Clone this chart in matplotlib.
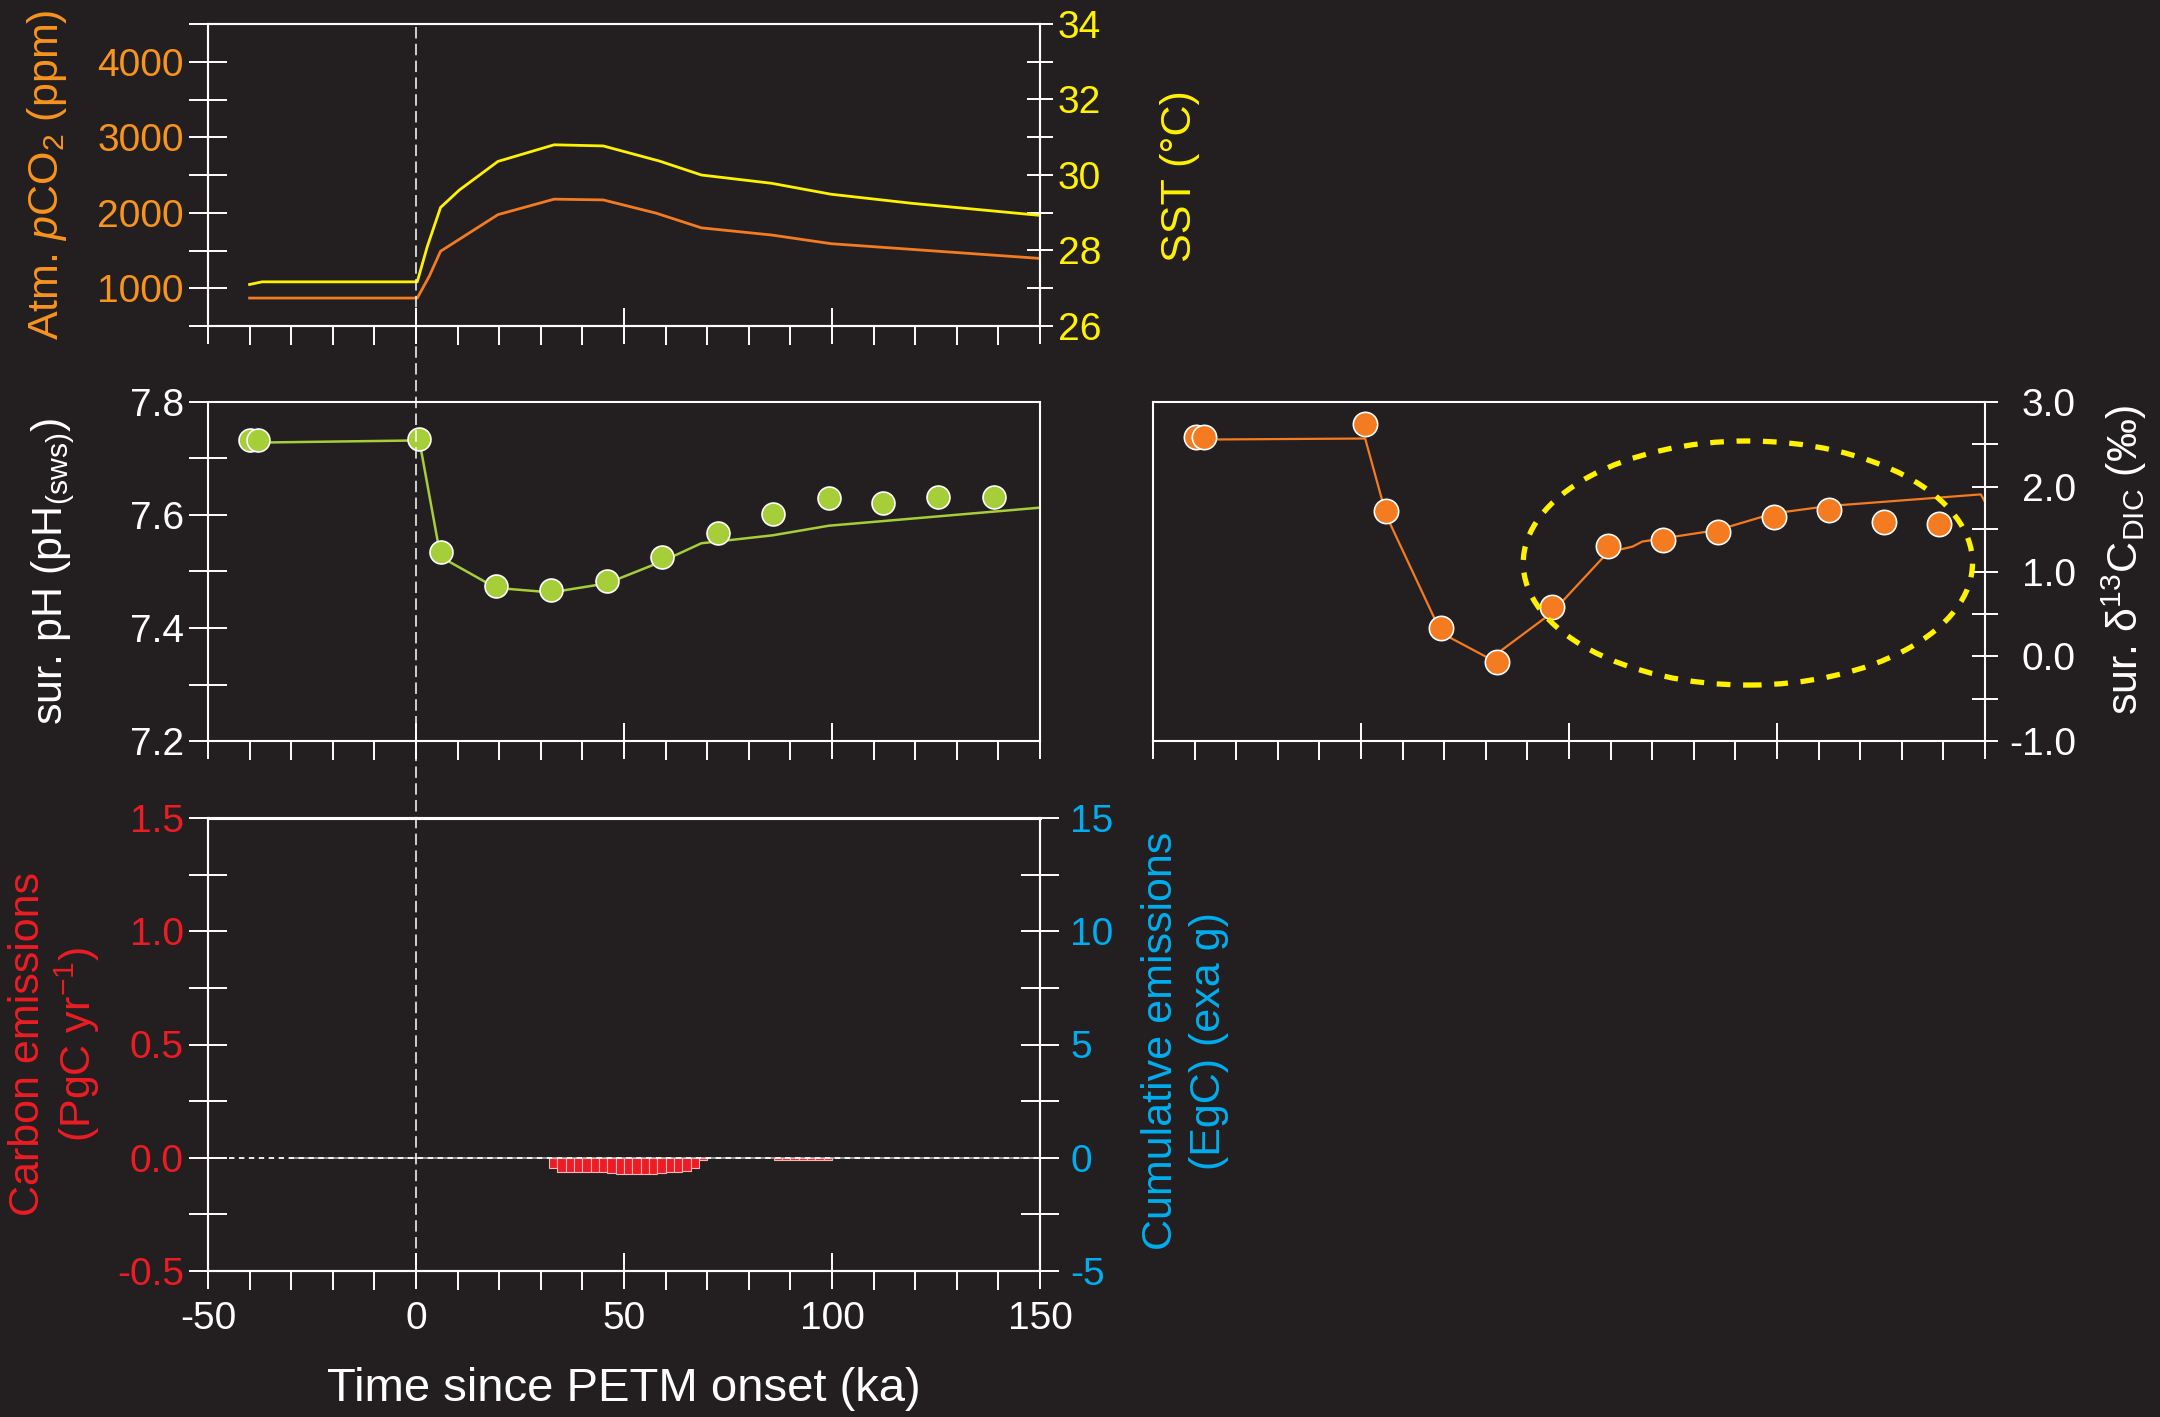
import numpy as np
import matplotlib.pyplot as plt
from matplotlib.patches import Ellipse
from matplotlib.lines import Line2D
from matplotlib import transforms

plt.rcParams['font.family'] = ['Liberation Sans', 'DejaVu Sans']
plt.rcParams['mathtext.fontset'] = 'custom'
plt.rcParams['mathtext.rm'] = 'Liberation Sans'
plt.rcParams['mathtext.it'] = 'Liberation Sans:italic'
plt.rcParams['mathtext.bf'] = 'Liberation Sans:bold'
plt.rcParams['mathtext.default'] = 'regular'

BG = '#231F20'
WHITE = '#FFFFFF'
ORANGE = '#F7941D'
ORANGE_LINE = '#F47B20'
YELLOW = '#FFF200'
GREEN = '#A6CE39'
RED = '#ED1C24'
BLUE = '#00AEEF'

# ---- model output: atmospheric pCO2 and sea-surface temperature ----
pco2_t = [-40, 0.3, 3.2, 5.9, 19.7, 33.2, 45, 57.7, 68.6, 85.5, 99.8, 150]
pco2 = [870, 870, 1160, 1490, 1975, 2180, 2170, 1995, 1800, 1705, 1590, 1395]

sst_t = [-40, -37, 0.3, 2.7, 5.9, 10.4, 19.7, 33.2, 45, 58.5, 68.6, 85.5, 99.8, 119.2, 150]
sst = [27.10, 27.17, 27.17, 28.10, 29.14, 29.60, 30.36, 30.80, 30.77, 30.37, 30.00,
       29.78, 29.49, 29.25, 28.93]

# ---- surface pH: model line and proxy points ----
ph_line_t = [-39.8, 0.8, 5.9, 19.2, 32.5, 45.9, 59.2, 68.6, 85.7, 99.2, 150]
ph_line = [7.728, 7.732, 7.526, 7.471, 7.463, 7.479, 7.518, 7.550, 7.564, 7.581, 7.613]

ph_t = [-39.8, -37.9, 0.8, 5.9, 19.2, 32.5, 45.9, 59.2, 72.5, 85.7, 99.2, 112.3, 125.6, 138.9]
ph = [7.733, 7.733, 7.735, 7.535, 7.475, 7.467, 7.484, 7.525, 7.568, 7.601, 7.630,
      7.622, 7.631, 7.631]

# ---- surface d13C of DIC: model line and proxy points ----
d13c_line_t = [-37.8, 1.0, 6.1, 19.3, 31.0, 45.8, 59.3, 65.3, 67.6, 72.5, 85.8, 99.2,
               112.5, 149.0, 150.0]
d13c_line = [2.557, 2.569, 1.659, 0.275, -0.031, 0.510, 1.224, 1.294, 1.353, 1.390,
             1.490, 1.686, 1.773, 1.910, 1.820]

d13c_t = [-39.7, -37.8, 1.0, 6.1, 19.3, 32.6, 45.8, 59.3, 72.5, 85.8, 99.2, 112.5, 125.7, 139.0]
d13c = [2.588, 2.588, 2.737, 1.718, 0.329, -0.067, 0.576, 1.302, 1.373, 1.463, 1.647,
        1.725, 1.588, 1.561]

# highlighted region (centre ka, centre permil, width ka, height permil)
ell_center = (93.0, 1.10)
ell_width = 108.0
ell_height = 2.88

# ---- carbon emission rate in 2-kyr bins ----
emis_bin = [32, 34, 36, 38, 40, 42, 44, 46, 48, 50, 52, 54, 56, 58, 60, 62, 64, 66, 68,
            86, 88, 90, 92, 94, 96, 98]
emis_rate = [-0.047, -0.063, -0.063, -0.063, -0.063, -0.063, -0.063, -0.069, -0.072,
             -0.072, -0.072, -0.072, -0.072, -0.068, -0.063, -0.062, -0.059, -0.044,
             -0.010, -0.012, -0.012, -0.012, -0.012, -0.012, -0.012, -0.010]
emis_rate_base_t = [-45, 150]
emis_rate_base = [0, 0]
cum_t = [-30, 150]
cum_emis = [0, 0]

x_major = [-50, 0, 50, 100, 150]
x_major_labels = ['-50', '0', '50', '100', '150']
x_minor = np.arange(-50, 151, 10)

pco2_ticks = [500, 1000, 1500, 2000, 2500, 3000, 3500, 4000, 4500]
pco2_labels = ['', '1000', '', '2000', '', '3000', '', '4000', '']
sst_ticks = [26, 27, 28, 29, 30, 31, 32, 33, 34]
sst_labels = ['26', '', '28', '', '30', '', '32', '', '34']
ph_ticks = [7.2, 7.3, 7.4, 7.5, 7.6, 7.7, 7.8]
ph_labels = ['7.2', '', '7.4', '', '7.6', '', '7.8']
d13c_ticks = [-1.0, -0.5, 0.0, 0.5, 1.0, 1.5, 2.0, 2.5, 3.0]
d13c_labels = ['-1.0', '', '0.0', '', '1.0', '', '2.0', '', '3.0']
rate_ticks = [-0.5, -0.25, 0.0, 0.25, 0.5, 0.75, 1.0, 1.25, 1.5]
rate_labels = ['-0.5', '', '0.0', '', '0.5', '', '1.0', '', '1.5']
cum_ticks = [-5, -2.5, 0, 2.5, 5, 7.5, 10, 12.5, 15]
cum_labels = ['-5', '', '0', '', '5', '', '10', '', '15']

W, H = 2160, 1417
fig = plt.figure(figsize=(W / 100, H / 100), dpi=100, facecolor=BG)


def rect(l, t, r, b):
    return [l / W, 1 - b / H, (r - l) / W, (b - t) / H]


def style_axes(ax, show_xlabels=False):
    ax.set_facecolor('none')
    for s in ax.spines.values():
        s.set_color(WHITE)
        s.set_linewidth(1.5)
    ax.set_xlim(-50, 150)
    ax.set_xticks(x_major)
    ax.set_xticks(x_minor, minor=True)
    ax.tick_params(axis='x', which='major', direction='inout', length=26.6, width=1.4,
                   color=WHITE, labelcolor=WHITE, labelsize=28, pad=8,
                   labelbottom=show_xlabels)
    ax.tick_params(axis='x', which='minor', direction='out', length=13.7, width=1.4,
                   color=WHITE)
    ax.tick_params(axis='y', which='minor', left=False, right=False)


def style_y(ax, ticks, labels, lim, color, side='left', length=27.5, pad=3.6):
    ax.set_ylim(*lim)
    ax.set_yticks(ticks)
    ax.set_yticklabels(labels)
    ax.tick_params(axis='y', which='major', direction='inout', length=length, width=1.4,
                   color=WHITE, labelcolor=color, labelsize=28, pad=pad,
                   left=(side == 'left'), labelleft=(side == 'left'),
                   right=(side == 'right'), labelright=(side == 'right'))


# ---- top: pCO2 and SST ----
ax1 = fig.add_axes(rect(208, 24, 1040, 326))
style_axes(ax1)
ax1.plot(pco2_t, pco2, color=ORANGE_LINE, lw=2.0)
style_y(ax1, pco2_ticks, pco2_labels, (500, 4500), ORANGE)
ax1b = ax1.twinx()
ax1b.set_facecolor('none')
ax1b.plot(sst_t, sst, color=YELLOW, lw=2.0)
style_y(ax1b, sst_ticks, sst_labels, (26, 34), YELLOW, side='right', length=19, pad=3.2)
for s in ax1b.spines.values():
    s.set_color(WHITE)
    s.set_linewidth(1.5)

# ---- middle left: surface pH ----
ax2 = fig.add_axes(rect(208, 402, 1040, 741))
style_axes(ax2)
ax2.plot(ph_line_t, ph_line, color=GREEN, lw=1.8, zorder=2)
ax2.plot(ph_t, ph, 'o', ms=16.5, mfc=GREEN, mec=WHITE, mew=1.2, zorder=3)
style_y(ax2, ph_ticks, ph_labels, (7.2, 7.8), WHITE)

# ---- middle right: surface d13C DIC ----
ax3 = fig.add_axes(rect(1153, 402, 1985, 741))
style_axes(ax3)
ax3.plot(d13c_line_t, d13c_line, color=ORANGE_LINE, lw=1.6, zorder=2)
ax3.plot(d13c_t, d13c, 'o', ms=17.5, mfc=ORANGE_LINE, mec=WHITE, mew=1.2, zorder=3)
style_y(ax3, d13c_ticks, d13c_labels, (-1.0, 3.0), WHITE, side='right', length=19, pad=56)
for lab in ax3.get_yticklabels():
    lab.set_horizontalalignment('right')
ax3.add_patch(Ellipse(ell_center, ell_width, ell_height, fill=False, edgecolor=YELLOW,
                      lw=3.8, linestyle=(0, (2.6, 2.4)), zorder=4))

# ---- bottom: emission rate and cumulative emissions ----
ax4 = fig.add_axes(rect(208, 818, 1040, 1271))
style_axes(ax4, show_xlabels=True)
ax4.spines['top'].set_linewidth(2.2)
style_y(ax4, rate_ticks, rate_labels, (-0.5, 1.5), RED)
ax4.set_xticklabels(x_major_labels)
ax4.set_xlabel('Time since PETM onset (ka)', color=WHITE, fontsize=34, labelpad=22)

ax4b = ax4.twinx()
ax4b.set_facecolor('none')
ax4b.plot(cum_t, cum_emis, color='#A8A8A8', lw=1.2, zorder=2)
style_y(ax4b, cum_ticks, cum_labels, (-5, 15), BLUE, side='right', length=27.5, pad=8)
for s in ax4b.spines.values():
    s.set_color(WHITE)
    s.set_linewidth(1.5)
ax4b.spines['top'].set_linewidth(2.2)

# rate axis drawn above the cumulative axis so the bars and dashes sit on top
ax4.set_zorder(ax4b.get_zorder() + 1)
ax4.bar(emis_bin, emis_rate, width=2, align='edge', color=RED, edgecolor='#F6B3B6',
        linewidth=0.8, zorder=3)
ax4.plot(emis_rate_base_t, emis_rate_base, color=WHITE, lw=1.3,
         linestyle=(0, (3, 2.5)), zorder=4)

# onset marker running through the left column
trans = transforms.blended_transform_factory(ax4.transData, fig.transFigure)
fig.add_artist(Line2D([0, 0], [1 - 27 / H, 1 - 1272 / H], transform=trans, color=WHITE,
                      lw=1.1, linestyle=(0, (7.5, 3.5)), zorder=5))

# axis titles
lab_kw = dict(rotation=90, ha='center', va='center', fontsize=31)
fig.text(47 / W, 1 - 175 / H, r'Atm. $\mathit{p}$CO$_2$ (ppm)', color=ORANGE, **lab_kw)
fig.text(1180 / W, 1 - 176 / H, 'SST (°C)', color=YELLOW, **lab_kw)
fig.text(53 / W, 1 - 572 / H, r'sur. pH (pH$_{\mathrm{(sws)}}$)', color=WHITE, **lab_kw)
fig.text(2124 / W, 1 - 560 / H, r'sur. δ$^{13}$C$_{\mathrm{DIC}}$ (‰)', color=WHITE, **lab_kw)
fig.text(28 / W, 1 - 1044 / H, 'Carbon emissions', color=RED, **lab_kw)
fig.text(77 / W, 1 - 1044 / H, r'(PgC yr$^{-1}$)', color=RED, **lab_kw)
fig.text(1161 / W, 1 - 1041 / H, 'Cumulative emissions', color=BLUE, **lab_kw)
fig.text(1209 / W, 1 - 1041 / H, '(EgC) (exa g)', color=BLUE, **lab_kw)

fig.savefig('out.png', dpi=100, facecolor=BG)
